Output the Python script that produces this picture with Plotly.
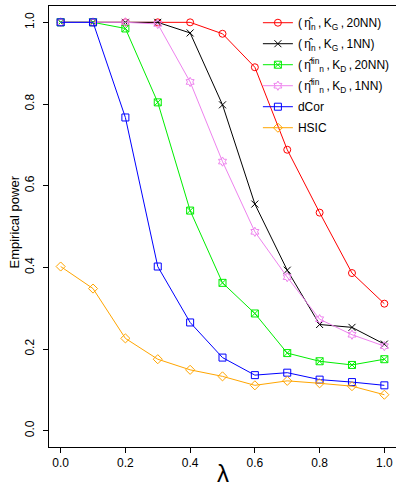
import plotly.graph_objects as go

lam = [0.0, 0.1, 0.2, 0.3, 0.4, 0.5, 0.6, 0.7, 0.8, 0.9, 1.0]

eta_KG_20NN = [1.0, 1.0, 1.0, 1.0, 1.0, 0.972, 0.890, 0.688, 0.534, 0.386, 0.311]
eta_KG_1NN = [1.0, 1.0, 1.0, 1.0, 0.974, 0.798, 0.555, 0.393, 0.260, 0.253, 0.212]
etalin_KD_20NN = [1.0, 1.0, 0.985, 0.804, 0.539, 0.362, 0.287, 0.190, 0.170, 0.161, 0.175]
etalin_KD_1NN = [1.0, 1.0, 1.0, 0.996, 0.854, 0.659, 0.487, 0.376, 0.273, 0.235, 0.207]
dcor = [1.0, 1.0, 0.767, 0.402, 0.265, 0.179, 0.136, 0.142, 0.125, 0.119, 0.111]
hsic = [0.402, 0.348, 0.226, 0.175, 0.149, 0.133, 0.111, 0.122, 0.116, 0.109, 0.088]

ts = "\u2009"
names = [
    f"({ts}η\u0302<sub>n</sub>{ts},{ts}K<sub>G</sub>{ts},{ts}20NN)",
    f"({ts}η\u0302<sub>n</sub>{ts},{ts}K<sub>G</sub>{ts},{ts}1NN)",
    f"({ts}η\u0302<sup>lin</sup><sub>n</sub>{ts},{ts}K<sub>D</sub>{ts},{ts}20NN)",
    f"({ts}η\u0302<sup>lin</sup><sub>n</sub>{ts},{ts}K<sub>D</sub>{ts},{ts}1NN)",
    "dCor",
    "HSIC",
]
series = [eta_KG_20NN, eta_KG_1NN, etalin_KD_20NN, etalin_KD_1NN, dcor, hsic]
colors = ["#FF0000", "#000000", "#00EE00", "#EE82EE", "#0000FF", "#FFA500"]
symbols = ["circle-open", "x-thin-open", "square-x-open", "hexagram-open", "square-open", "diamond-open"]

fig = go.Figure()
for i, (nm, ys, c, s) in enumerate(zip(names, series, colors, symbols)):
    fig.add_trace(go.Scatter(
        x=lam, y=ys, name=nm, mode="lines+markers", legendgroup=f"g{i}",
        line=dict(color=c, width=1),
        marker=dict(symbol=s, size=7, color=c, line=dict(color=c, width=1)),
    ))

font = "Liberation Sans, Arial, sans-serif"
fig.update_layout(
    width=396, height=486,
    margin=dict(l=49, r=0, t=6, b=39, autoexpand=False),
    paper_bgcolor="white", plot_bgcolor="white",
    font=dict(family=font, size=11, color="black"),
    showlegend=True,
    legend=dict(x=0.602, y=0.995, xanchor="left", yanchor="top",
                bgcolor="rgba(0,0,0,0)", font=dict(size=12),
                itemwidth=30, tracegroupgap=2),
    xaxis=dict(range=[-0.036, 1.036], tickvals=[0, 0.2, 0.4, 0.6, 0.8, 1.0],
               ticktext=["0.0", "0.2", "0.4", "0.6", "0.8", "1.0"],
               showgrid=False, zeroline=False, showline=True, linecolor="black",
               linewidth=1, mirror=True, ticks="outside", ticklen=5, tickcolor="black",
               tickfont=dict(size=12)),
    yaxis=dict(range=[-0.04, 1.04], tickvals=[0, 0.2, 0.4, 0.6, 0.8, 1.0],
               ticktext=["0.0", "0.2", "0.4", "0.6", "0.8", "1.0"],
               showgrid=False, zeroline=False, showline=True, linecolor="black",
               linewidth=1, ticks="outside", ticklen=5, tickcolor="black",
               tickangle=-90, tickfont=dict(size=12), ticklabelstandoff=4),
    annotations=[
        dict(text="Empirical power", x=0, y=0.5, xref="paper", yref="paper",
             xanchor="center", yanchor="middle", xshift=-35, yshift=4,
             showarrow=False, textangle=-90, font=dict(size=13)),
        dict(text="λ", x=0.5, y=-0.0605, xref="paper", yref="paper",
             showarrow=False, yanchor="middle", font=dict(size=24)),
    ],
)
fig.write_html("out.html", config={"displayModeBar": False},
               post_script="document.body.style.margin='0';")
